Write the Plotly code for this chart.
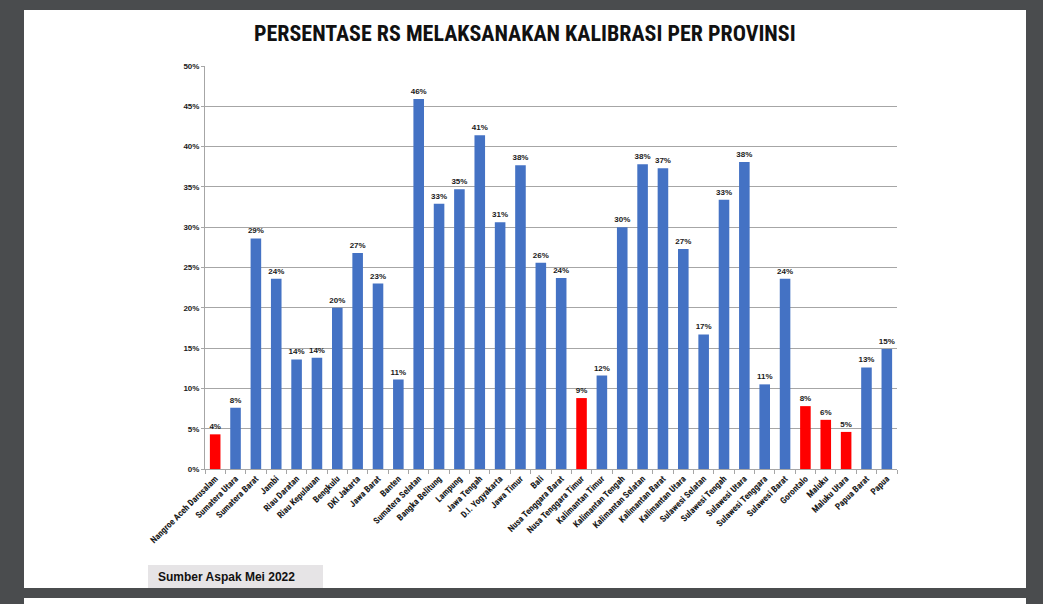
import plotly.graph_objects as go

provinces = [
    "Nangroe Aceh Darusalam", "Sumatera Utara", "Sumatera Barat", "Jambi", "Riau Daratan",
    "Riau Kepulauan", "Bengkulu", "DKI Jakarta", "Jawa Barat", "Banten",
    "Sumatera Selatan", "Bangka Belitung", "Lampung", "Jawa Tengah", "D.I. Yogyakarta",
    "Jawa Timur", "Bali", "Nusa Tenggara Barat", "Nusa Tenggara Timur", "Kalimantan Timur",
    "Kalimantan Tengah", "Kalimantan Selatan", "Kalimantan Barat", "Kalimantan Utara",
    "Sulawesi Selatan", "Sulawesi Tengah", "Sulawesi Utara", "Sulawesi Tenggara",
    "Sulawesi Barat", "Gorontalo", "Maluku", "Maluku Utara", "Papua Barat", "Papua",
]
percent = [
    4.3, 7.6, 28.6, 23.6, 13.6,
    13.8, 20.0, 26.8, 23.0, 11.1,
    45.9, 32.9, 34.7, 41.4, 30.6,
    37.7, 25.6, 23.7, 8.8, 11.6,
    30.0, 37.8, 37.3, 27.3,
    16.7, 33.4, 38.1, 10.5,
    23.6, 7.8, 6.1, 4.6, 12.6, 14.9,
]
highlighted = ["Nangroe Aceh Darusalam", "Nusa Tenggara Timur", "Gorontalo", "Maluku", "Maluku Utara"]
y_ticks = [0, 5, 10, 15, 20, 25, 30, 35, 40, 45, 50]

BLUE = "#4472C4"
RED = "#FF0000"
colors = [RED if p in highlighted else BLUE for p in provinces]

FONT = "Liberation Sans Narrow, Arial Narrow, Roboto Condensed, Arial, sans-serif"
BG = "#4A4C4E"

fig = go.Figure()
fig.add_trace(go.Bar(
    x=provinces, y=percent,
    marker=dict(color=colors, line=dict(width=0)),
    texttemplate="%{y:.0f}%", textposition="outside", constraintext="none",
    textfont=dict(family="Arial", size=8, color="#1A1A1A", weight="bold"),
    cliponaxis=False,
    hoverinfo="skip",
))

# plot area: x 205..897, y 66..469
L, R, T, B = 205, 897, 66, 469
W, H = 1043, 604
def px(x):
    return (x - L) / (R - L)
def py(y):
    return (B - y) / (B - T)

shapes = [
    # white slide
    dict(type="rect", xref="paper", yref="paper", x0=px(24), x1=px(1026), y0=py(588), y1=py(10),
         fillcolor="white", line=dict(width=0), layer="below"),
    # next slide peeking at bottom
    dict(type="rect", xref="paper", yref="paper", x0=px(24), x1=px(1026), y0=py(610), y1=py(598),
         fillcolor="white", line=dict(width=0), layer="below"),
    # source box
    dict(type="rect", xref="paper", yref="paper", x0=px(148), x1=px(323), y0=py(588), y1=py(565),
         fillcolor="#E6E4E6", line=dict(width=0), layer="below"),
]

fig.update_layout(
    width=W, height=H,
    margin=dict(l=L, r=W - R, t=T, b=H - B, pad=0),
    paper_bgcolor=BG,
    plot_bgcolor="white",
    showlegend=False,
    bargap=0.48,
    shapes=shapes,
    annotations=[
        dict(text="<b>PERSENTASE RS MELAKSANAKAN KALIBRASI PER PROVINSI</b>", xref="paper", yref="paper",
             x=px(525), y=py(34), xanchor="center", yanchor="middle", showarrow=False,
             font=dict(family=FONT, size=22, color="#111111")),
        dict(text="<b>Sumber Aspak Mei 2022</b>", xref="paper", yref="paper",
             x=px(156), y=py(577), xanchor="left", yanchor="middle", showarrow=False,
             font=dict(family="Arial", size=12, color="#111111")),
    ],
)
fig.update_xaxes(
    type="category", tickangle=-45,
    tickfont=dict(family=FONT, size=9, color="#1A1A1A", weight="bold"),
    showline=True, linecolor="#A6A6A6", linewidth=1,
    ticks="outside", tickson="boundaries", ticklen=4, tickcolor="#A6A6A6",
    showgrid=False,
)
fig.update_yaxes(
    range=[0, 50], tickvals=y_ticks, ticktext=[f"{v}%" for v in y_ticks],
    tickfont=dict(family="Arial", size=8, color="#1A1A1A", weight="bold"),
    showline=True, linecolor="#A6A6A6", linewidth=1,
    ticks="outside", ticklen=3, tickcolor="#A6A6A6",
    showgrid=True, gridcolor="#A6A6A6", gridwidth=1,
    zeroline=False,
)

fig.write_html(
    "out.html",
    config={"displayModeBar": False},
    post_script=f"document.body.style.margin='0';document.body.style.background='{BG}';",
)
